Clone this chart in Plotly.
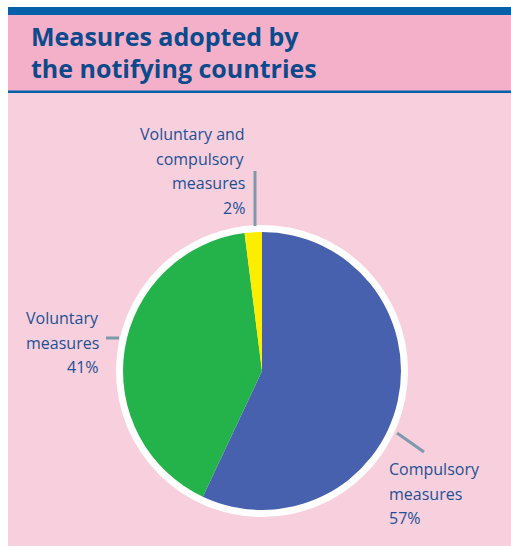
import plotly.graph_objects as go

# ---- data ----
categories = ["Compulsory measures", "Voluntary measures", "Voluntary and compulsory measures"]
values = [57, 41, 2]
label_lines = [
    ["Compulsory", "measures", "57%"],
    ["Voluntary", "measures", "41%"],
    ["Voluntary and", "compulsory", "measures", "2%"],
]
colors = ["#4761ae", "#24b24b", "#ffed00"]

W, H = 511, 546
def px(x): return x / W
def py(y): return 1 - y / H

# layout geometry (pixels)
cx, cy, r = 262, 371, 139
ring = 7

fig = go.Figure()
fig.add_trace(go.Pie(
    labels=categories, values=values, sort=False, direction="clockwise",
    rotation=0, marker=dict(colors=colors, line=dict(width=0)),
    textinfo="none", hoverinfo="label+percent", showlegend=False,
    domain=dict(x=[px(cx - r), px(cx + r)], y=[py(cy + r), py(cy - r)]),
))

shapes = []
# left white strip + pink background
shapes.append(dict(type="rect", xref="paper", yref="paper", x0=px(8), x1=1, y0=0, y1=py(7),
                   fillcolor="#f8cfdc", line_width=0, layer="below"))
# title band
shapes.append(dict(type="rect", xref="paper", yref="paper", x0=px(8), x1=1, y0=py(92), y1=py(14),
                   fillcolor="#f5b0c9", line_width=0, layer="below"))
# top blue bar
shapes.append(dict(type="rect", xref="paper", yref="paper", x0=px(8), x1=1, y0=py(15), y1=py(7),
                   fillcolor="#0461a9", line_width=0, layer="below"))
# thin blue line under title
shapes.append(dict(type="rect", xref="paper", yref="paper", x0=px(8), x1=1, y0=py(93), y1=py(90.5),
                   fillcolor="#0461a9", line_width=0, layer="below"))
# white ring behind pie
shapes.append(dict(type="circle", xref="paper", yref="paper",
                   x0=px(cx - r - ring), x1=px(cx + r + ring),
                   y0=py(cy + r + ring), y1=py(cy - r - ring),
                   fillcolor="white", line_width=0, layer="below"))

# leader lines (pixel endpoints)
leaders = [((397, 433), (424, 452)), ((106, 338), (119, 338)), ((255, 171), (255, 226))]
for (x0, y0), (x1, y1) in leaders:
    shapes.append(dict(type="line", xref="paper", yref="paper", x0=px(x0), y0=py(y0),
                       x1=px(x1), y1=py(y1), line=dict(color="#7b9aab", width=3)))

annotations = []
title_lines = ["Measures adopted by", "the notifying countries"]
for i, t in enumerate(title_lines):
    annotations.append(dict(text=t, x=px(29), y=py(36 + 32 * i), xref="paper", yref="paper",
                            xanchor="left", yanchor="middle", showarrow=False,
                            font=dict(family="Open Sans", size=25, color="#0b4a8c", weight="bold")))

# label text placement: (x, first line y, anchor)
label_pos = [(387, 469, "left"), (101, 318, "right"), (247, 134, "right")]
for lines, (lx, ly, anc) in zip(label_lines, label_pos):
    for j, t in enumerate(lines):
        annotations.append(dict(text=t, x=px(lx), y=py(ly + 24.5 * j), xref="paper", yref="paper",
                                xanchor=anc, yanchor="middle", showarrow=False,
                                font=dict(family="Open Sans", size=16, color="#1c5196")))

fig.update_layout(width=W, height=H, margin=dict(l=0, r=0, t=0, b=0),
                  paper_bgcolor="white", plot_bgcolor="white",
                  shapes=shapes, annotations=annotations)
fig.write_html("out.html")
